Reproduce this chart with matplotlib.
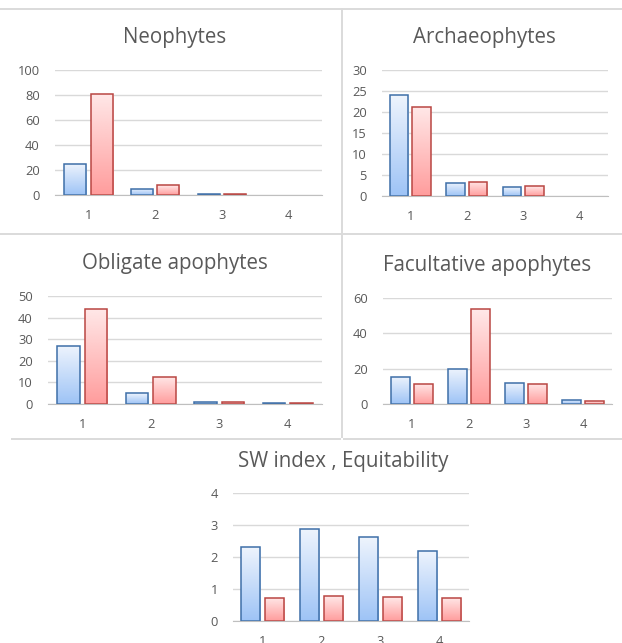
import matplotlib
matplotlib.use("Agg")
import matplotlib.pyplot as plt
import numpy as np
from matplotlib.lines import Line2D
from matplotlib.colors import LinearSegmentedColormap

plt.rcParams['font.family'] = ['Open Sans', 'DejaVu Sans']

categories = ["1", "2", "3", "4"]

neo_blue = [25, 5, 1, 0]
neo_red = [81, 8, 1, 0]
arch_blue = [24, 3.1, 2.1, 0]
arch_red = [21.3, 3.4, 2.3, 0]
obl_blue = [27, 5, 1, 0.5]
obl_red = [44, 12.7, 1, 0.5]
fac_blue = [15.5, 20, 12, 2.5]
fac_red = [11.5, 53.5, 11.5, 1.5]
sw_index = [2.3, 2.88, 2.62, 2.2]
equitability = [0.72, 0.78, 0.75, 0.72]

titles = ["Neophytes", "Archaeophytes", "Obligate apophytes",
          "Facultative apophytes", "SW index , Equitability"]

W, H = 622, 643
fig = plt.figure(figsize=(W / 100, H / 100), dpi=100)

blue_cmap = LinearSegmentedColormap.from_list("b", ["#9DC3F6", "#EEF4FD"])
red_cmap = LinearSegmentedColormap.from_list("r", ["#FF9C9C", "#FFE8E8"])
blue_edge = "#3E6FA8"
red_edge = "#B94643"
grid_c = "#D9D9D9"
txt_c = "#595959"


def px_axes(x0, x1, ytop, ybot):
    return fig.add_axes([x0 / W, 1 - ybot / H, (x1 - x0) / W, (ybot - ytop) / H])


def draw_panel(ax, blue, red, ymax, step):
    n = len(categories)
    x = np.arange(n)
    bw = 0.33
    off = 0.2
    ax.set_xlim(-0.5, n - 0.5)
    ax.set_ylim(0, ymax)
    grad = np.array([[0.0], [1.0]])
    for vals, cmap, ec, sgn in [(blue, blue_cmap, blue_edge, -1), (red, red_cmap, red_edge, 1)]:
        for xi, v in zip(x, vals):
            if v <= 0:
                continue
            cx = xi + sgn * off
            bars = ax.bar(cx, v, width=bw, facecolor="none", edgecolor=ec, linewidth=1.1, zorder=3)
            img = ax.imshow(grad, extent=[cx - bw / 2, cx + bw / 2, -v / 2, v * 1.5], origin="lower",
                            cmap=cmap, aspect="auto", zorder=2, interpolation="bilinear",
                            interpolation_stage="data")
            img.set_clip_path(bars[0])
    ax.set_xlim(-0.5, n - 0.5)
    ax.set_ylim(0, ymax)
    ax.set_aspect("auto")
    ax.set_yticks(np.arange(0, ymax + step / 2, step))
    ax.set_xticks(x)
    ax.set_xticklabels(categories)
    ax.yaxis.grid(True, color=grid_c, linewidth=1, zorder=0)
    ax.set_axisbelow(True)
    for s in ["top", "right", "left"]:
        ax.spines[s].set_visible(False)
    ax.spines["bottom"].set_color("#BFBFBF")
    ax.spines["bottom"].set_zorder(4)
    ax.tick_params(length=0, labelsize=9.3, labelcolor=txt_c)
    ax.tick_params(axis="x", pad=10)
    ax.tick_params(axis="y", pad=11)
    ax.patch.set_alpha(0)


ax1 = px_axes(55, 322, 70, 195)
draw_panel(ax1, neo_blue, neo_red, 100, 20)
ax2 = px_axes(382, 608, 70, 196)
draw_panel(ax2, arch_blue, arch_red, 30, 5)
ax3 = px_axes(48, 322, 296, 404)
draw_panel(ax3, obl_blue, obl_red, 50, 10)
ax4 = px_axes(383, 612, 298, 404)
draw_panel(ax4, fac_blue, fac_red, 60, 20)
ax5 = px_axes(233, 469, 493, 621)
draw_panel(ax5, sw_index, equitability, 4, 1)

title_pos = [(175, 37), (484, 37), (175, 263), (487, 266), (343, 461)]
for t, (tx, ty) in zip(titles, title_pos):
    fig.text(tx / W, 1 - ty / H, t, ha="center", va="center", fontsize=14.8, color=txt_c)

frame_c = "#DADADA"
def hline(y, x0, x1):
    fig.add_artist(Line2D([x0 / W, x1 / W], [1 - y / H, 1 - y / H], color=frame_c, lw=1.4))
def vline(x, y0, y1):
    fig.add_artist(Line2D([x / W, x / W], [1 - y0 / H, 1 - y1 / H], color=frame_c, lw=1.4))

hline(9, 0, 622)
hline(234, 0, 341)
hline(234, 344, 622)
hline(439, 12, 340)
hline(439, 344, 622)
vline(342, 9, 437)

fig.savefig("out.png", dpi=100)
